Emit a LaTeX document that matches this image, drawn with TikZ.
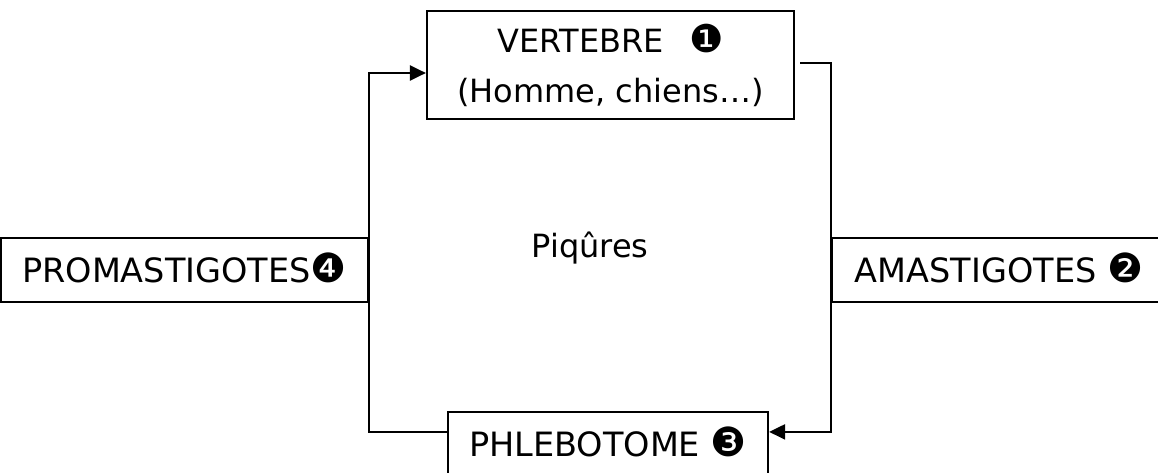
\documentclass[tikz,border=0pt]{standalone}
\usepackage{fontspec}
\usepackage{graphicx}
\setmainfont{DejaVu Sans}
\usetikzlibrary{arrows.meta}
\newcommand{\cnum}[1]{\scalebox{1.2}{#1}}
\tikzset{
  box/.style={draw, line width=2.2pt, inner sep=0pt, font=\fontsize{32}{50}\selectfont},
  oneline/.style={text height=24pt, text depth=0pt, font=\fontsize{33.5}{50}\selectfont},
  lab/.style={inner sep=0pt, font=\fontsize{32}{50}\selectfont},
  flow/.style={line width=2.2pt},
  tip/.style={-{Triangle[length=16pt,width=15pt]}}
}
\begin{document}
\begin{tikzpicture}[x=1pt,y=-1pt]
\useasboundingbox (0,0) rectangle (1158,473);
\clip (0,0) rectangle (1158,473);
\node[box, align=center, minimum width=367pt, minimum height=108pt] (vert) at (610.5,65) {VERTEBRE\hspace{0.8em}\cnum{❶}\\(Homme, chiens…)};
\node[box, oneline, minimum width=367pt, minimum height=64pt] (prom) at (184.5,270) {PROMASTIGOTES\cnum{❹}};
\node[box, oneline, minimum width=334pt, minimum height=64pt] (ama) at (999,270) {AMASTIGOTES \cnum{❷}};
\node[box, oneline, minimum width=320pt, minimum height=64pt] (phl) at (608,444) {PHLEBOTOME \cnum{❸}};
\node[lab, anchor=base] (piq) at (590,257) {Piqûres};
\coordinate (vin) at ([yshift=-8pt]vert.west);
\coordinate (pout) at ([yshift=-21pt]phl.north west);
\coordinate (vout) at ([xshift=5pt,yshift=2pt]vert.east);
\coordinate (pin) at ([yshift=-21pt]phl.north east);
\draw[flow, tip] (pout) -| (prom.east |- vin) -- (vin);
\draw[flow, tip] (vout) -| (ama.west |- pin) -- (pin);
\end{tikzpicture}
\end{document}
